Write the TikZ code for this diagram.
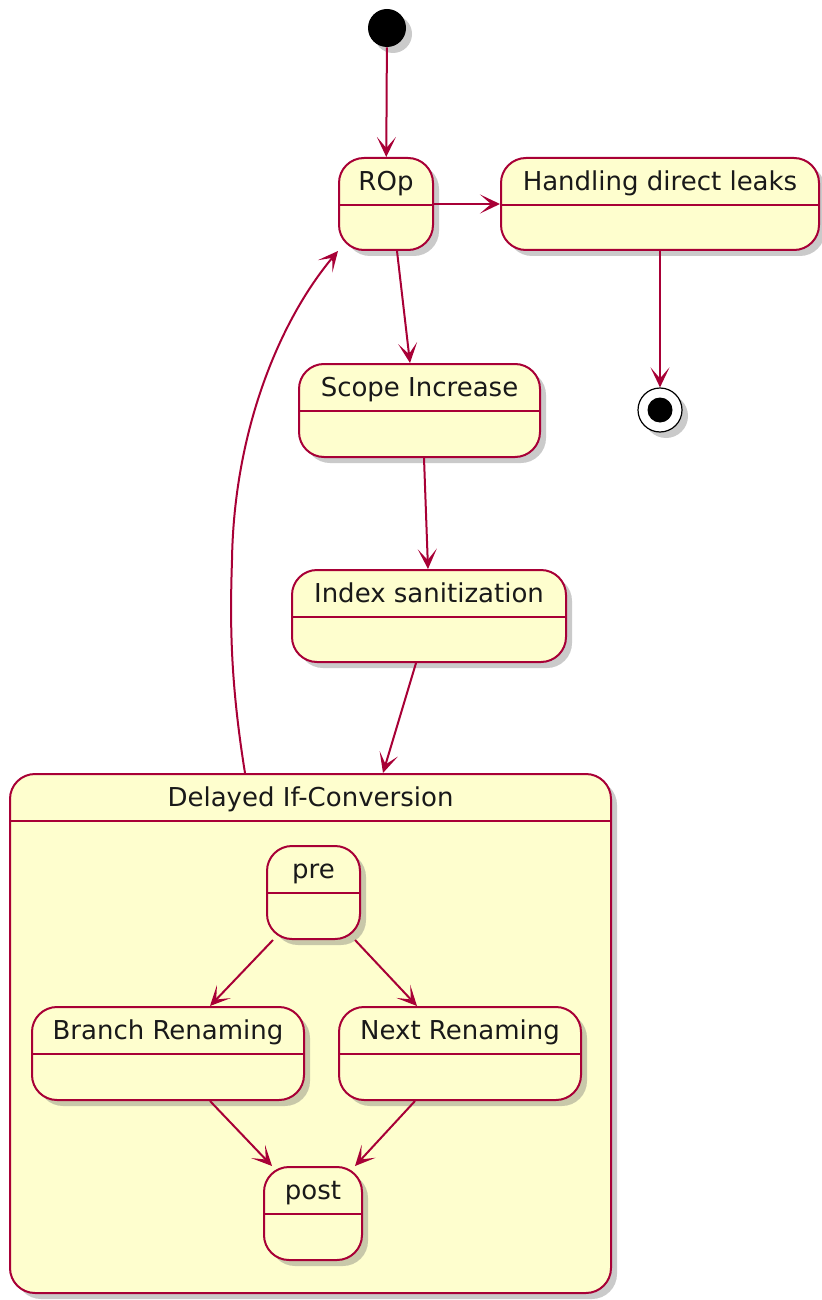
\documentclass[tikz,border=0pt]{standalone}
\usepackage{fontspec}
\setmainfont{DejaVu Sans}
\usetikzlibrary{arrows.meta,fit,shadows,calc}
\definecolor{umlred}{HTML}{A80036}
\definecolor{umlfill}{HTML}{FEFECE}

\begin{document}
\begin{tikzpicture}[x=0.5pt,y=-0.5pt,
    statebox/.style={draw=umlred, line width=1pt, fill=umlfill, rounded corners=12.5pt, inner sep=0pt,
      drop shadow={shadow xshift=3pt, shadow yshift=-3pt, opacity=0.35, fill=black!60}},
    title/.style={anchor=north, inner sep=5.5pt, yshift=-1.5pt, text height=9.75pt, text depth=3.25pt,
      font=\fontsize{13pt}{15pt}\selectfont, text=black!90},
    divider/.style={draw=umlred, line width=1pt},
    flow/.style={draw=umlred, line width=1pt, -{Stealth[length=10pt,width=9.5pt,inset=5.5pt]}},
    startstate/.style={circle, fill=black, inner sep=0pt, minimum size=19pt,
      drop shadow={shadow xshift=3pt, shadow yshift=-3pt, opacity=0.35, fill=black!60}},
    endstate/.style={circle, draw=black, line width=0.6pt, fill=white, inner sep=0pt, minimum size=22pt,
      drop shadow={shadow xshift=3pt, shadow yshift=-3pt, opacity=0.35, fill=black!60},
      path picture={\fill[black] (path picture bounding box.center) circle (6.25pt);}},
  ]
  \useasboundingbox (0,0) rectangle (821,1300);

  % outer states
  \node[startstate] (start) at (387,28) {};
  \node[statebox, fit={(339,158) (433,250)}, label={[title]north:ROp}] (rop) {};
  \node[statebox, fit={(501,158) (819,250)}, label={[title]north:Handling direct leaks}] (leaks) {};
  \node[endstate] (stop) at (660,410) {};
  \node[statebox, fit={(299,364) (540,457)}, label={[title]north:Scope Increase}] (scope) {};
  \node[statebox, fit={(292,570) (566,662)}, label={[title]north:Index sanitization}] (index) {};

  % composite state
  \node[statebox, fit={(10,774) (611,1293)}, label={[title]north:Delayed If-Conversion}] (delayed) {};
  \node[statebox, fit={(267,846) (360,939)}, label={[title]north:pre}] (pre) {};
  \node[statebox, fit={(32,1007) (304,1100)}, label={[title]north:Branch Renaming}] (branch) {};
  \node[statebox, fit={(339,1007) (581,1100)}, label={[title]north:Next Renaming}] (next) {};
  \node[statebox, fit={(264,1167) (362,1260)}, label={[title]north:post}] (post) {};

  \foreach \s in {rop,leaks,scope,index,delayed,pre,branch,next,post}
    \draw[divider] ([yshift=-24pt]\s.north west) -- ([yshift=-24pt]\s.north east);

  % transitions
  \draw[flow] (start) -- (rop);
  \draw[flow] (rop.east) -- (leaks.west);
  \draw[flow] (leaks) -- (stop);
  \draw[flow] ($(rop.south)+(11,0)$) -- ($(scope.north)+(-9.5,0)$);
  \draw[flow] ($(scope.south)+(4.5,0)$) -- ($(index.north)+(-1,0)$);
  \draw[flow] ($(index.south)+(-13,0)$) -- ($(delayed.north)+(72.5,0)$);
  \draw[flow] ($(delayed.north)+(-65.5,0)$) .. controls (230,680) and (230,620) .. (232,560)
    .. controls (234,430) and (280,320) .. (rop.south west);

  \draw[flow] ($(pre.south)+(-40.5,0)$) -- ($(branch.north)+(42,0)$);
  \draw[flow] ($(pre.south)+(41.5,0)$) -- ($(next.north)+(-43,0)$);
  \draw[flow] ($(branch.south)+(42,0)$) -- ($(post.north)+(-41,0)$);
  \draw[flow] ($(next.south)+(-45,0)$) -- ($(post.north)+(42,0)$);
\end{tikzpicture}
\end{document}
